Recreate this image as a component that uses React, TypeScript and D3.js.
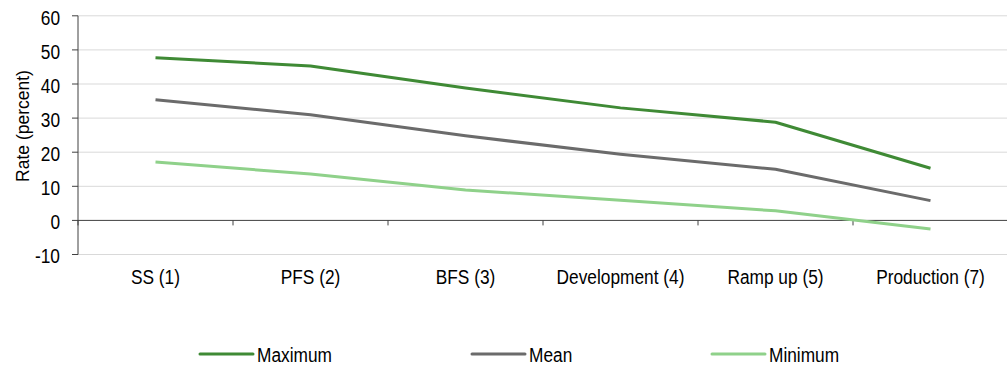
import React from "react";
import * as d3 from "d3";

const categories = ["SS (1)", "PFS (2)", "BFS (3)", "Development (4)", "Ramp up (5)", "Production (7)"];
const maximum = [47.7, 45.3, 38.8, 33.0, 28.8, 15.3];
const mean = [35.4, 31.0, 24.8, 19.4, 15.0, 5.8];
const minimum = [17.1, 13.6, 8.9, 5.9, 2.8, -2.5];
const yTicks = [-10, 0, 10, 20, 30, 40, 50, 60];

const seriesNames = ["Maximum", "Mean", "Minimum"];
const seriesColors = ["#3f8a35", "#6b6b6b", "#8fd18a"];

const W = 1007;
const H = 367;
const FONT = "'Liberation Sans', Arial, sans-serif";
const FS = 17.3;

// Tall, slightly condensed-looking label text: scaled vertically about its baseline.
function Label(props: { x: number; y: number; anchor?: string; children: React.ReactNode }) {
  return (
    <text
      transform={`translate(${props.x},${props.y}) scale(1,1.2)`}
      textAnchor={props.anchor ?? "start"}
      fontSize={FS}
      fill="#000"
    >
      {props.children}
    </text>
  );
}

export default function App() {
  const x = d3.scaleBand<string>().domain(categories).range([78, 1008]).padding(0);
  const y = d3.scaleLinear().domain([-10, 60]).range([254.5, 15.8]);
  const cx = (c: string) => (x(c) ?? 0) + x.bandwidth() / 2;

  const line = d3
    .line<number>()
    .x((_, i) => cx(categories[i]))
    .y((v) => y(v));

  const series = [maximum, mean, minimum];
  const legendX = [200, 472, 712];

  return (
    <svg
      width={W}
      height={H}
      style={{ position: "absolute", left: 0, top: 0, background: "#fff" }}
      fontFamily={FONT}
    >
      {/* horizontal gridlines */}
      {yTicks
        .filter((t) => t !== 0)
        .map((t) => (
          <line key={t} x1={78} x2={W} y1={y(t)} y2={y(t)} stroke="#d9d9d9" strokeWidth={1} />
        ))}
      {/* y axis with outward ticks */}
      <line x1={78} x2={78} y1={y(60)} y2={y(-10)} stroke="#404040" strokeWidth={1} />
      {yTicks.map((t) => (
        <g key={t}>
          <line x1={72} x2={78} y1={y(t)} y2={y(t)} stroke="#404040" strokeWidth={1} />
          <Label x={60} y={y(t) + 8.8} anchor="end">
            {t}
          </Label>
        </g>
      ))}
      {/* zero line with category ticks */}
      <line x1={78} x2={W} y1={y(0)} y2={y(0)} stroke="#404040" strokeWidth={1} />
      {categories.map((c) => (
        <line
          key={c}
          x1={(x(c) ?? 0) + x.bandwidth()}
          x2={(x(c) ?? 0) + x.bandwidth()}
          y1={y(0)}
          y2={y(0) + 5}
          stroke="#404040"
          strokeWidth={1}
        />
      ))}
      <line x1={78} x2={78} y1={y(0)} y2={y(0) + 5} stroke="#404040" strokeWidth={1} />
      {categories.map((c) => (
        <Label key={c} x={cx(c)} y={284} anchor="middle">
          {c}
        </Label>
      ))}
      <text
        transform={`translate(29,126) rotate(-90)`}
        textAnchor="middle"
        fontSize={17.5}
        fill="#000"
      >
        Rate (percent)
      </text>
      {/* series lines */}
      {series.map((s, i) => (
        <path
          key={seriesNames[i]}
          d={line(s) ?? ""}
          fill="none"
          stroke={seriesColors[i]}
          strokeWidth={3}
          strokeLinejoin="round"
        />
      ))}
      {/* legend */}
      {seriesNames.map((n, i) => (
        <g key={n}>
          <line
            x1={legendX[i]}
            x2={legendX[i] + 53}
            y1={354}
            y2={354}
            stroke={seriesColors[i]}
            strokeWidth={3}
            strokeLinecap="round"
          />
          <Label x={legendX[i] + 57} y={362}>
            {n}
          </Label>
        </g>
      ))}
    </svg>
  );
}
